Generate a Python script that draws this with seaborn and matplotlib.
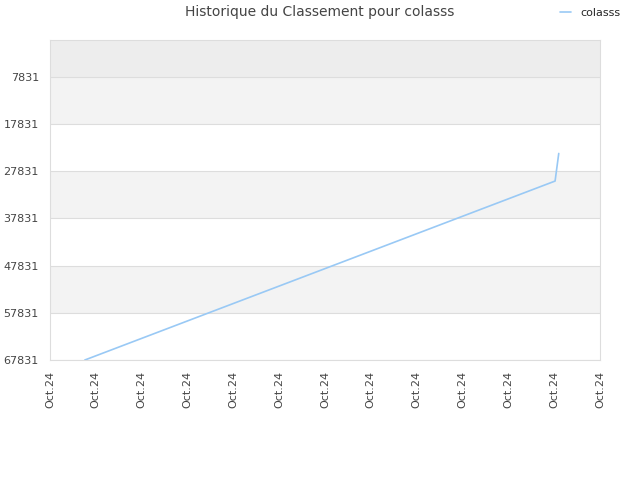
import matplotlib
matplotlib.use("Agg")
import matplotlib.pyplot as plt
import seaborn as sns
import pandas as pd

title = "Historique du Classement pour colasss"
series_name = "colasss"
x_pos = [0.76, 11.02, 11.1]
ranks = [67831, 29900, 24050]
y_ticks = [7831, 17831, 27831, 37831, 47831, 57831, 67831]
x_ticks = list(range(13))
x_labels = ["Oct.24"] * 13
bands = [(0, 7831, "#ededed"), (7831, 17831, "#f3f3f3"), (27831, 37831, "#f3f3f3"),
         (47831, 57831, "#f3f3f3")]

sns.set_style("white")
plt.rcParams['font.family'] = ['DejaVu Sans']

fig = plt.figure(figsize=(6.4, 4.8), dpi=100)
ax = fig.add_axes([50/640, 1-360/480, 550/640, 320/480])

for lo, hi, c in bands:
    ax.axhspan(lo, hi, color=c, zorder=0, lw=0)
for t in y_ticks:
    ax.axhline(t, color="#dddddd", lw=0.8, zorder=1)

df = pd.DataFrame({"x": x_pos, "rank": ranks})
sns.lineplot(data=df, x="x", y="rank", ax=ax, color="#99c9f5", lw=1.2, label=series_name, zorder=3)

ax.set_xlim(0, 12)
ax.set_ylim(67831, 0)
ax.set_yticks(y_ticks)
ax.set_yticklabels([str(t) for t in y_ticks])
ax.set_xticks(x_ticks)
ax.set_xticklabels(x_labels, rotation=90)
ax.tick_params(axis="both", labelsize=8, colors="#444444", length=0)
ax.tick_params(axis="y", pad=8)
ax.tick_params(axis="x", pad=8)
ax.set_xlabel("")
ax.set_ylabel("")
for s in ax.spines.values():
    s.set_color("#dddddd")
    s.set_linewidth(0.8)

ax.get_legend().remove()
h, l = ax.get_legend_handles_labels()
fig.legend(h, l, loc="upper right", bbox_to_anchor=(0.985, 1.005), frameon=False,
           fontsize=8, handlelength=1.0, handletextpad=0.8)
fig.suptitle(title, fontsize=10, color="#444444", y=0.99)

fig.savefig("out.png", dpi=100)
